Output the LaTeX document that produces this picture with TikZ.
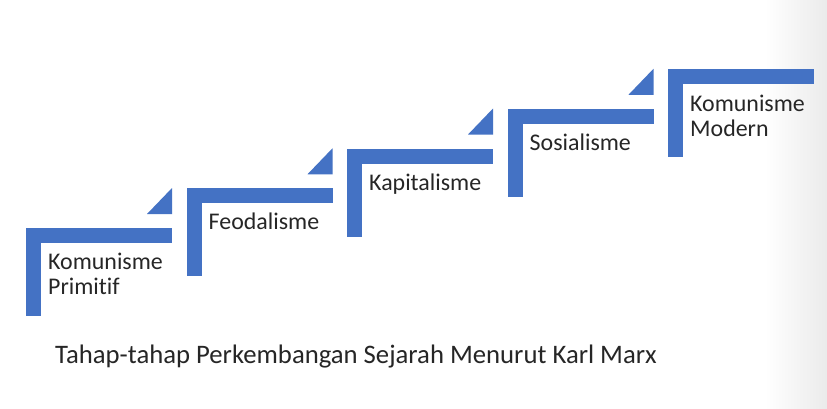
\documentclass[tikz,border=0pt]{standalone}
\usepackage{fontspec}
\setmainfont[Ligatures=NoCommon]{Carlito}
\definecolor{stepblue}{HTML}{4472C4}
\definecolor{txtgray}{HTML}{262626}
\begin{document}
\begin{tikzpicture}[x=1bp,y=-1bp,
  bar/.style={fill=stepblue,draw=none},
  lbl/.style={anchor=base west,inner sep=0pt,font=\fontsize{24}{25}\selectfont,text=txtgray,align=left},
  captext/.style={anchor=base west,inner sep=0pt,font=\fontsize{26.8}{30}\selectfont,text=txtgray}]
\useasboundingbox (0,0) rectangle (827,408);
\fill[white] (0,0) rectangle (827,408);
\shade[left color=white,right color=black!8,draw=none] (765,0) rectangle (827,408);
% steps
\foreach \i in {0,...,4}{
  \pgfmathsetmacro{\xo}{26+160.5*\i}
  \pgfmathsetmacro{\yo}{228-39.75*\i}
  \fill[bar] (\xo,\yo) rectangle ++(146,15);
  \fill[bar] (\xo,\yo) rectangle ++(15,88);
}
\foreach \i in {0,...,3}{
  \pgfmathsetmacro{\xo}{26+160.5*\i}
  \pgfmathsetmacro{\yo}{228-39.75*\i}
  \fill[bar] (\xo+121,\yo-14) -- (\xo+146,\yo-14) -- (\xo+146,\yo-40) -- cycle;
}
\node[lbl] (s1) at (48,294.5) {Komunisme\\Primitif};
\node[lbl] (s2) at (208.5,229.5) {Feodalisme};
\node[lbl] (s3) at (369,190) {Kapitalisme};
\node[lbl] (s4) at (529.5,150.5) {Sosialisme};
\node[lbl] (s5) at (690,136.5) {Komunisme\\Modern};
\node[captext] (title) at (55,363) {Tahap-tahap Perkembangan Sejarah Menurut Karl Marx};
\end{tikzpicture}
\end{document}
